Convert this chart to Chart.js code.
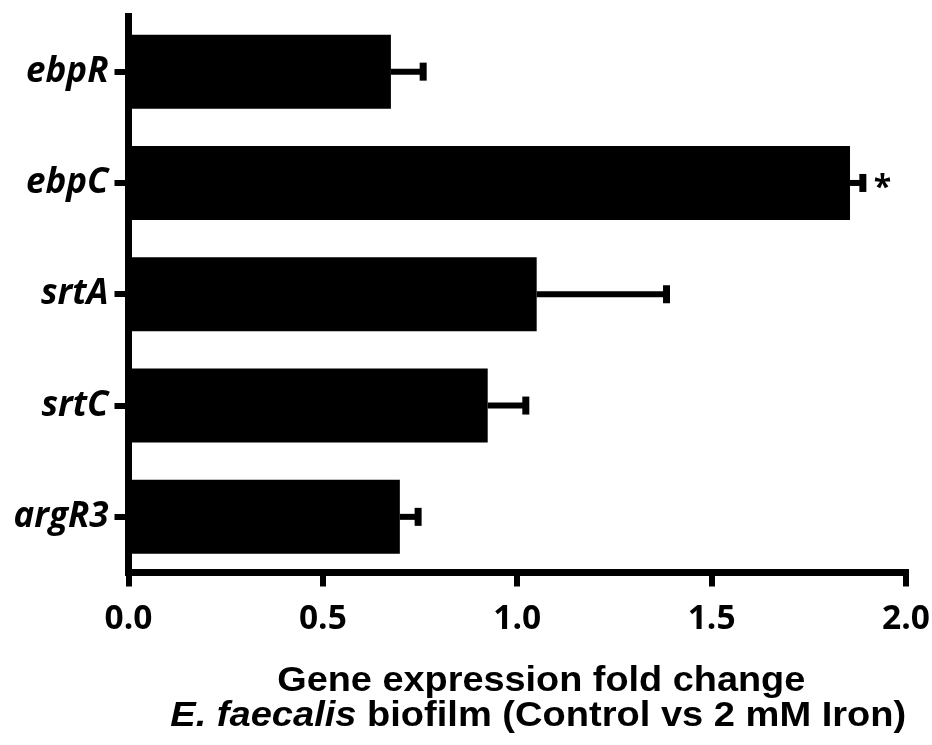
<!DOCTYPE html>
<html>
<head>
<meta charset="utf-8">
<script src="https://cdn.jsdelivr.net/npm/chart.js@4.4.1/dist/chart.umd.min.js"></script>
<style>
  html, body { margin: 0; padding: 0; background: #ffffff; }
  #wrap { width: 932px; height: 745px; }
</style>
</head>
<body>
<div id="wrap"><canvas id="c" width="932" height="745"></canvas></div>
<script>
const genes = ['ebpR', 'ebpC', 'srtA', 'srtC', 'argR3'];
const foldChange = [0.675, 1.856, 1.050, 0.924, 0.698];
const errorSEM = [0.083, 0.033, 0.334, 0.098, 0.047];
const significance = ['', '*', '', '', ''];
const xTickValues = [0, 0.5, 1.0, 1.5, 2.0];
const titleLine1 = 'Gene expression fold change';
const titleLine2Italic = 'E. faecalis';
const titleLine2Rest = ' biofilm (Control vs 2 mM Iron)';

const errorBarPlugin = {
  id: 'errorBars',
  afterDatasetsDraw(chart) {
    const ctx = chart.ctx;
    const xs = chart.scales.x, ys = chart.scales.y;
    ctx.save();
    ctx.strokeStyle = '#000';
    ctx.fillStyle = '#000';
    ctx.lineCap = 'butt';
    foldChange.forEach((v, i) => {
      const x0 = xs.getPixelForValue(v);
      const x1 = xs.getPixelForValue(v + errorSEM[i]);
      const y = ys.getPixelForValue(i);
      ctx.lineWidth = 6;
      ctx.beginPath();
      ctx.moveTo(x0, y);
      ctx.lineTo(x1, y);
      ctx.stroke();
      ctx.lineWidth = 7;
      ctx.beginPath();
      ctx.moveTo(x1, y - 9);
      ctx.lineTo(x1, y + 9);
      ctx.stroke();
      if (significance[i]) {
        ctx.font = 'bold 32px "Open Sans"';
        ctx.textAlign = 'left';
        ctx.textBaseline = 'alphabetic';
        ctx.fillText(significance[i], x1 + 11, y + 15);
      }
    });
    ctx.restore();
  },
  afterDraw(chart) {
    const ctx = chart.ctx;
    const xs = chart.scales.x;
    const cx = (xs.left + xs.right) / 2;
    const fItalic = 'italic bold 35px "Liberation Sans", Arial, sans-serif';
    const fBold = 'bold 35px "Liberation Sans", Arial, sans-serif';
    ctx.save();
    ctx.fillStyle = '#000';
    ctx.textBaseline = 'alphabetic';
    ctx.textAlign = 'left';
    ctx.font = fBold;
    const wl1 = ctx.measureText(titleLine1).width;
    const sx1 = 528 / wl1;
    ctx.save();
    ctx.translate(cx + 24, 691);
    ctx.scale(sx1, 1);
    ctx.fillText(titleLine1, -wl1 / 2, 0);
    ctx.restore();
    ctx.font = fItalic;
    const w1 = ctx.measureText(titleLine2Italic).width;
    ctx.font = fBold;
    const w2 = ctx.measureText(titleLine2Rest).width;
    const sx2 = 736 / (w1 + w2);
    ctx.save();
    ctx.translate(cx + 21, 726);
    ctx.scale(sx2, 1);
    const start = -(w1 + w2) / 2;
    ctx.font = fItalic;
    ctx.fillText(titleLine2Italic, start, 0);
    ctx.font = fBold;
    ctx.fillText(titleLine2Rest, start + w1, 0);
    ctx.restore();
    ctx.restore();
  }
};

new Chart(document.getElementById('c'), {
  type: 'bar',
  data: {
    labels: genes,
    datasets: [{
      data: foldChange,
      backgroundColor: '#000000',
      borderWidth: 0,
      barPercentage: 0.665,
      categoryPercentage: 1.0
    }]
  },
  options: {
    indexAxis: 'y',
    responsive: false,
    animation: false,
    devicePixelRatio: 1,
    layout: { padding: { top: 16, right: 26, left: 0, bottom: 0 } },
    plugins: { legend: { display: false }, tooltip: { enabled: false } },
    scales: {
      x: {
        type: 'linear',
        min: 0,
        max: 2,
        afterFit: s => { s.height = 172.5; s.paddingLeft = 0; s.paddingRight = 0; },
        afterBuildTicks: s => { s.ticks = xTickValues.map(v => ({ value: v })); },
        ticks: {
          color: '#000',
          padding: 13,
          font: { family: '"Open Sans"', size: 33.5, weight: 'bold' },
          callback: v => Number(v).toFixed(1),
          maxRotation: 0
        },
        grid: { drawOnChartArea: false, color: '#000', lineWidth: 6, tickLength: 14, tickWidth: 6, tickColor: '#000' },
        border: { display: true, color: '#000', width: 7 }
      },
      y: {
        afterFit: s => { s.width = 128.5; s.paddingTop = 0; s.paddingBottom = 0; },
        ticks: {
          color: '#000',
          padding: 6,
          font: { family: '"Open Sans"', size: 35, weight: 'bold', style: 'italic' }
        },
        grid: { offset: false, drawOnChartArea: false, color: '#000', lineWidth: 6, tickLength: 14, tickWidth: 6, tickColor: '#000' },
        border: { display: true, color: '#000', width: 7 }
      }
    }
  },
  plugins: [errorBarPlugin]
});
</script>
</body>
</html>
